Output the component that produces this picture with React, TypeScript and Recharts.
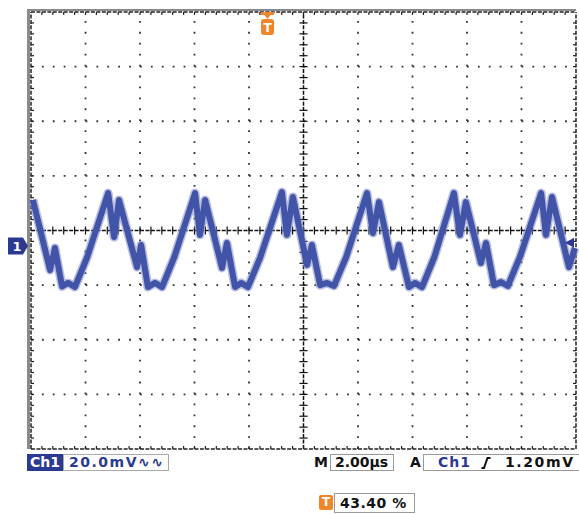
import React from 'react';
import { LineChart, Line, XAxis, YAxis, ReferenceLine, ReferenceArea, ReferenceDot } from 'recharts';

// Time in microseconds (2.00 µs/div, 10 divisions)
const traceTimes = [
  0.07, 0.7, 0.88, 1.14, 1.36, 1.61, 2.06, 2.83, 3.05, 3.23, 3.89, 4.04, 4.29, 4.55, 4.81, 5.26,
  6.02, 6.2, 6.39, 7.01, 7.19, 7.49, 7.71, 7.96, 8.41, 9.21, 9.39, 9.61, 10.13, 10.31, 10.61,
  10.86, 11.12, 11.57, 12.33, 12.55, 12.77, 13.28, 13.5, 13.87, 14.09, 14.35, 14.8, 15.52, 15.74,
  15.96, 16.51, 16.7, 16.99, 17.25, 17.5, 17.95, 18.72, 18.9, 19.12, 19.74, 19.96,
];
// Voltage in mV (20.0 mV/div, 8 divisions)
const traceVolts = [
  11.2, -14.5, -6.4, -20.5, -19.2, -20.7, -9.8, 13.7, -2.4, 11.2, -13.4, -5.3, -20.7, -19.2, -20.7, -9.7,
  13.7, -1.6, 11.2, -13.7, -4.6, -20.7, -19.2, -20.7, -9.9, 14.1, -1.6, 12.3, -12.6, -5.3, -20.0,
  -19.2, -20.3, -9.6, 13.7, -0.9, 10.4, -13.4, -5.3, -20.7, -19.2, -20.7, -9.8, 13.7, -1.6,
  10.4, -11.9, -4.6, -20.0, -18.9, -20.3, -9.5, 13.7, -1.6, 12.3, -13.4, -6.4,
];

const xDivisions = [2, 4, 6, 8, 12, 14, 16, 18];
const yDivisions = [-60, -40, -20, 20, 40, 60];
const xMinor = Array.from({ length: 49 }, (_, i) => (i + 1) * 0.4);
const yMinor = Array.from({ length: 39 }, (_, i) => -80 + (i + 1) * 4);

const groundLevel = -5.7;
const triggerLevel = -4.5;
const triggerTime = 8.68;

const data = traceTimes.map((t, i) => ({ t, v: traceVolts[i] }));

const NAVY = '#2b3990';
const ORANGE = '#f0862a';
const FONT = '"DejaVu Sans", sans-serif';

const TMarker = (p: any) => {
  const { cx, cy } = p;
  return (
    <g>
      <rect x={cx - 6.5} y={cy} width={13} height={3} fill={ORANGE} />
      <polygon points={`${cx - 3},${cy + 3} ${cx + 3},${cy + 3} ${cx},${cy + 7}`} fill={ORANGE} />
      <rect x={cx - 6.5} y={cy + 7} width={13} height={16} rx={3} fill={ORANGE} />
      <text x={cx} y={cy + 20} textAnchor="middle" fill="#fff" fontSize={12} fontWeight="bold" fontFamily={FONT}>T</text>
    </g>
  );
};

const GroundMarker = (p: any) => {
  const { cx, cy } = p;
  return (
    <g>
      <polygon
        points={`${cx - 23},${cy - 8.5} ${cx - 8},${cy - 8.5} ${cx - 3},${cy} ${cx - 8},${cy + 8.5} ${cx - 23},${cy + 8.5}`}
        fill={NAVY}
      />
      <text x={cx - 14} y={cy + 5} textAnchor="middle" fill="#fff" fontSize={13} fontWeight="bold" fontFamily={FONT}>1</text>
    </g>
  );
};

const LevelMarker = (p: any) => {
  const { cx, cy } = p;
  return (
    <polygon points={`${cx - 11},${cy} ${cx - 2},${cy - 5} ${cx - 2},${cy + 5}`} fill={NAVY} />
  );
};

const txt: React.CSSProperties = {
  position: 'absolute',
  fontFamily: FONT,
  fontWeight: 'bold',
  fontSize: 14,
  lineHeight: '17px',
  whiteSpace: 'nowrap',
};

export default function App() {
  return (
    <div style={{ position: 'absolute', left: 0, top: 0, width: 579, height: 514, background: '#fff', overflow: 'hidden' }}>
      <LineChart width={579} height={514} data={data} margin={{ top: 12, right: 3, bottom: 65, left: 31 }}>
        <XAxis dataKey="t" type="number" domain={[0, 20]} hide />
        <YAxis type="number" domain={[-80, 80]} hide />

        <ReferenceArea x1={-0.147} x2={-0.037} y1={-80} y2={81.1} fill="#8a8a8a" fillOpacity={1} stroke="none" ifOverflow="visible" />
        <ReferenceArea x1={-0.147} x2={20} y1={80.37} y2={81.1} fill="#8a8a8a" fillOpacity={1} stroke="none" ifOverflow="visible" />

        {xDivisions.map((x) => (
          <ReferenceLine key={'gx' + x} x={x} stroke="#333" strokeWidth={1.8} strokeDasharray="1.8 9.13" />
        ))}
        {yDivisions.map((y) => (
          <ReferenceLine key={'gy' + y} y={y} stroke="#333" strokeWidth={1.8} strokeDasharray="1.8 9.1" />
        ))}

        <ReferenceLine x={10} stroke="#111" strokeWidth={1.5} strokeDasharray="4 1.45" />
        <ReferenceLine y={0} stroke="#111" strokeWidth={1.5} strokeDasharray="4 1.45" />
        {xMinor.map((x) => (
          <ReferenceLine key={'cx' + x} segment={[{ x, y: -1.5 }, { x, y: 1.5 }]} stroke="#111" strokeWidth={1.2} />
        ))}
        {yMinor.map((y) => (
          <ReferenceLine key={'cy' + y} segment={[{ x: 9.85, y }, { x: 10.15, y }]} stroke="#111" strokeWidth={1.2} />
        ))}

        <ReferenceLine x={0} stroke="#222" strokeWidth={1.5} strokeDasharray="4 1.45" />
        <ReferenceLine x={20} stroke="#222" strokeWidth={1.5} strokeDasharray="4 1.45" />
        <ReferenceLine y={-80} stroke="#222" strokeWidth={1.5} strokeDasharray="4 1.45" />
        <ReferenceLine y={80} stroke="#222" strokeWidth={1.5} strokeDasharray="4 1.45" />
        {xMinor.map((x) => (
          <ReferenceLine key={'bx' + x} segment={[{ x, y: -80 }, { x, y: -78.9 }]} stroke="#222" strokeWidth={1.2} />
        ))}
        {xMinor.map((x) => (
          <ReferenceLine key={'tx' + x} segment={[{ x, y: 80 }, { x, y: 78.9 }]} stroke="#222" strokeWidth={1.2} />
        ))}
        {yMinor.map((y) => (
          <ReferenceLine key={'ly' + y} segment={[{ x: 0, y }, { x: 0.11, y }]} stroke="#222" strokeWidth={1.2} />
        ))}
        {yMinor.map((y) => (
          <ReferenceLine key={'ry' + y} segment={[{ x: 20, y }, { x: 19.89, y }]} stroke="#222" strokeWidth={1.2} />
        ))}

        <Line dataKey="v" type="linear" stroke="#7e89c8" strokeOpacity={0.55} strokeWidth={9} dot={false} isAnimationActive={false} strokeLinejoin="round" />
        <Line dataKey="v" type="linear" stroke="#4254a8" strokeWidth={6} dot={false} isAnimationActive={false} strokeLinejoin="round" />

        <ReferenceDot x={triggerTime} y={80} r={0} shape={TMarker} />
        <ReferenceDot x={0} y={groundLevel} r={0} shape={GroundMarker} />
        <ReferenceDot x={20} y={triggerLevel} r={0} shape={LevelMarker} />
      </LineChart>

      <div style={{ ...txt, left: 27, top: 454, width: 36, height: 17, background: NAVY, color: '#fff', textAlign: 'center' }}>Ch1</div>
      <div style={{ ...txt, left: 63, top: 454, width: 106, height: 17, border: '1px solid #aaa', color: NAVY, lineHeight: '15px', paddingLeft: 5, boxSizing: 'border-box', letterSpacing: 1.5 }}>20.0mV∿∿</div>

      <div style={{ ...txt, left: 314, top: 454, color: '#111' }}>M</div>
      <div style={{ ...txt, left: 330, top: 454, width: 64, height: 17, border: '1px solid #999', boxSizing: 'border-box', lineHeight: '15px', paddingLeft: 4, color: '#111' }}>2.00µs</div>
      <div style={{ ...txt, left: 410, top: 454, color: '#111' }}>A</div>
      <div style={{ ...txt, left: 423, top: 454, width: 160, height: 17, border: '1px solid #999', boxSizing: 'border-box', lineHeight: '15px' }}>
        <span style={{ position: 'absolute', left: 14, color: NAVY, letterSpacing: 1 }}>Ch1</span>
        <svg style={{ position: 'absolute', left: 57, top: 2 }} width={10} height={12}>
          <path d="M0.5 11 L3 11 L6.5 1 L9.5 1" stroke="#111" strokeWidth={2} fill="none" />
        </svg>
        <span style={{ position: 'absolute', left: 81, color: '#111', letterSpacing: 1.6 }}>1.20mV</span>
      </div>

      <div style={{ ...txt, left: 319, top: 495, width: 14, height: 15, background: ORANGE, color: '#fff', fontSize: 12, lineHeight: '15px', textAlign: 'center', borderRadius: 2 }}>T</div>
      <div style={{ ...txt, left: 334, top: 493, width: 81, height: 20, border: '1px solid #999', boxSizing: 'border-box', lineHeight: '18px', paddingLeft: 5, color: '#111', letterSpacing: 0.5 }}>43.40 %</div>
    </div>
  );
}
